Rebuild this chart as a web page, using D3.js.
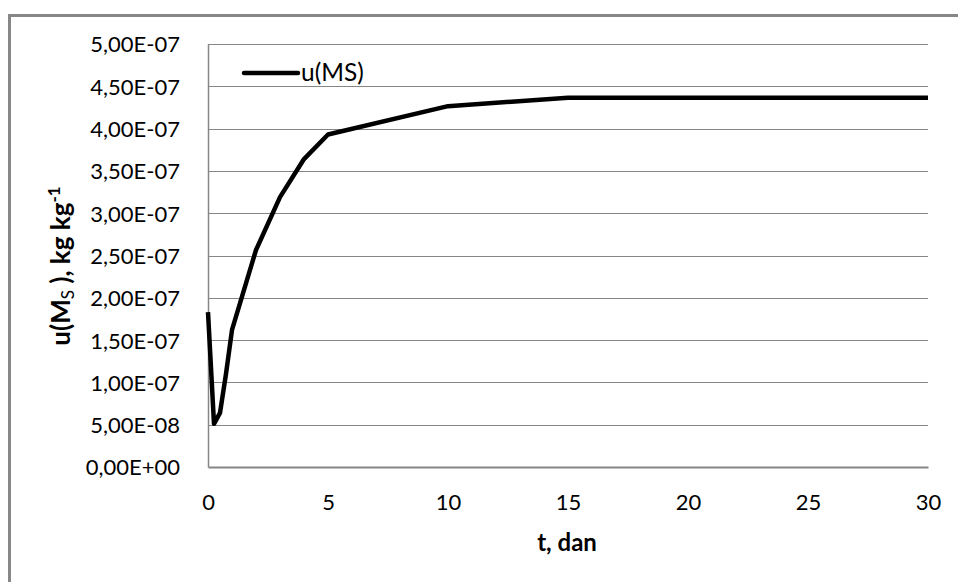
<!DOCTYPE html>
<html>
<head>
<meta charset="utf-8">
<script src="https://cdn.jsdelivr.net/npm/d3@7/dist/d3.min.js"></script>
<style>
  html, body { margin: 0; padding: 0; background: #fff; }
  svg { display: block; }
  text { font-family: Lato, "Open Sans", sans-serif; fill: #000; }
</style>
</head>
<body>
<svg id="chart" width="958" height="582"></svg>
<script>
// Time in days
const tDays = [0, 0.25, 0.5, 0.75, 1, 2, 3, 4, 5, 10, 15, 20, 25, 30];
// u(MS), kg kg-1
const uMS = [1.83e-7, 5.1e-8, 6.4e-8, 1.1e-7, 1.62e-7, 2.565e-7, 3.19e-7, 3.64e-7,
             3.93e-7, 4.265e-7, 4.365e-7, 4.365e-7, 4.365e-7, 4.365e-7];
const xTicks = [0, 5, 10, 15, 20, 25, 30];
const yTicks = [0, 0.5e-7, 1e-7, 1.5e-7, 2e-7, 2.5e-7, 3e-7, 3.5e-7, 4e-7, 4.5e-7, 5e-7];
const seriesName = "u(MS)";

const svg = d3.select("#chart");
const grey = "#868686";

// outer chart frame (runs off the right and bottom edges)
svg.append("rect")
  .attr("x", 9.5).attr("y", 15.5)
  .attr("width", 1000).attr("height", 1000)
  .attr("fill", "#fff").attr("stroke", "#878787").attr("stroke-width", 3);

const x = d3.scaleLinear().domain([0, 30]).range([208, 928]);
const y = d3.scaleLinear().domain([0, 5e-7]).range([467, 44]);

// format like 4,50E-07
function sci(v) {
  const [m, e] = v.toExponential(2).split("e");
  const ex = parseInt(e, 10);
  const sign = ex < 0 ? "-" : "+";
  return m.replace(".", ",") + "E" + sign + String(Math.abs(ex)).padStart(2, "0");
}

// horizontal gridlines
svg.append("g").selectAll("line").data(yTicks.filter(d => d > 0)).join("line")
  .attr("x1", x(0)).attr("x2", x(30))
  .attr("y1", d => Math.round(y(d)) + 0.5).attr("y2", d => Math.round(y(d)) + 0.5)
  .attr("stroke", grey).attr("stroke-width", 1);

// y axis
const yAxis = svg.append("g")
  .attr("transform", `translate(${x(0)},0)`)
  .call(d3.axisLeft(y).tickValues(yTicks).tickFormat(sci).tickSize(0).tickPadding(28));
yAxis.select(".domain").attr("stroke", grey).attr("stroke-width", 1.5);
yAxis.selectAll("text")
  .attr("font-size", 22).attr("font-family", "Lato").attr("dy", "0.36em").attr("fill", "#000");

// x axis
const xAxis = svg.append("g")
  .attr("transform", `translate(0,${y(0)})`)
  .call(d3.axisBottom(x).tickValues(xTicks).tickFormat(d3.format("d")).tickSize(0).tickPadding(27));
xAxis.select(".domain").attr("stroke", grey).attr("stroke-width", 2);
xAxis.selectAll("text")
  .attr("font-size", 22).attr("font-family", "Lato").attr("dy", "0.71em").attr("fill", "#000");

// series line
const line = d3.line().x((d, i) => x(tDays[i])).y(d => y(d));
svg.append("path")
  .datum(uMS)
  .attr("d", line)
  .attr("fill", "none")
  .attr("stroke", "#000")
  .attr("stroke-width", 4.5)
  .attr("stroke-linejoin", "round");

// legend
svg.append("line")
  .attr("x1", 244).attr("x2", 298).attr("y1", 73).attr("y2", 73)
  .attr("stroke", "#000").attr("stroke-width", 4.5).attr("stroke-linecap", "round");
svg.append("text")
  .attr("x", 301).attr("y", 81)
  .attr("font-size", 24.5)
  .text(seriesName);

// x axis title
svg.append("text")
  .attr("x", 567).attr("y", 551)
  .attr("text-anchor", "middle")
  .attr("font-size", 24).attr("font-weight", "bold")
  .text("t, dan");

// y axis title with subscript and superscript
const yt = svg.append("text")
  .attr("transform", "translate(70,266) rotate(-90)")
  .attr("text-anchor", "middle")
  .attr("font-size", 26).attr("font-weight", "bold");
yt.append("tspan").text("u(M");
yt.append("tspan").attr("font-size", 17).attr("dy", 4).attr("font-weight", "normal").text("S");
yt.append("tspan").attr("dy", -4).text(" ), kg kg");
yt.append("tspan").attr("font-size", 17).attr("dy", -10).text("-1");
</script>
</body>
</html>
